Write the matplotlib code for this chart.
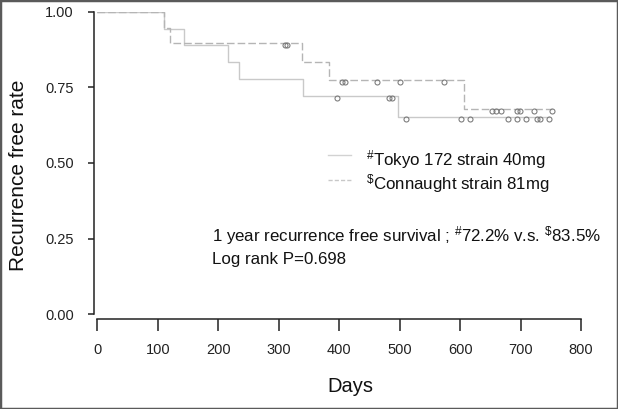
import matplotlib
matplotlib.use("Agg")
import matplotlib.pyplot as plt
from matplotlib.patches import Rectangle
from matplotlib.transforms import offset_copy

plt.rcParams['font.family'] = ['Liberation Sans', 'DejaVu Sans']
plt.rcParams['mathtext.fontset'] = 'custom'
plt.rcParams['mathtext.rm'] = 'Liberation Sans'
plt.rcParams['mathtext.it'] = 'Liberation Sans:italic'
plt.rcParams['mathtext.bf'] = 'Liberation Sans:bold'

# ---- data ----
tokyo_event_days = [110, 144, 216, 234, 340, 498]
tokyo_levels = [1.0, 0.944, 0.889, 0.833, 0.778, 0.722, 0.652]
tokyo_censor_days = [397, 483, 487, 511, 602, 617, 680, 694, 709, 728, 732, 747]
tokyo_end_day = 747

conn_event_days = [110, 120, 339, 383, 607]
conn_levels = [1.0, 0.947, 0.895, 0.835, 0.775, 0.678]
conn_censor_days = [310, 314, 404, 409, 463, 501, 573, 652, 659, 667, 694, 699, 722, 752]
conn_end_day = 752

x_ticks = [0, 100, 200, 300, 400, 500, 600, 700, 800]
y_ticks = [0.0, 0.25, 0.5, 0.75, 1.0]
y_ticklabels = ['0.00', '0.25', '0.50', '0.75', '1.00']


def level_at(day, events, levels):
    idx = sum(1 for e in events if e <= day)
    return levels[idx]


W, H = 618, 409
fig = plt.figure(figsize=(W / 100, H / 100), dpi=100)
ax = fig.add_axes([97.3 / W, (H - 314.3) / H, 483.7 / W, 302.6 / H])

solid_col = '#c9c9c9'
dash_col = '#b5b5b5'
mark_col = '#777777'

# Tokyo (solid)
tx = [0] + tokyo_event_days + [tokyo_end_day]
ty = tokyo_levels + [tokyo_levels[-1]]
ax.plot(tx, ty, drawstyle='steps-post', color=solid_col, lw=1.0, zorder=2)
# Connaught (dashed)
cx = [0] + conn_event_days + [conn_end_day]
cy = conn_levels + [conn_levels[-1]]
ax.plot(cx, cy, drawstyle='steps-post', color=dash_col, lw=1.0,
        dashes=(5.5, 2.2), zorder=2)

off = offset_copy(ax.transData, fig=fig, x=0, y=-2, units='dots')
ax.plot(tokyo_censor_days,
        [level_at(d, tokyo_event_days, tokyo_levels) for d in tokyo_censor_days],
        ls='none', marker='o', ms=3.6, mfc='none', mec=mark_col, mew=0.75,
        transform=off, zorder=3)
ax.plot(conn_censor_days,
        [level_at(d, conn_event_days, conn_levels) for d in conn_censor_days],
        ls='none', marker='o', ms=3.6, mfc='none', mec=mark_col, mew=0.75,
        transform=off, zorder=3)

ax.set_xlim(0, 800)
ax.set_ylim(0, 1)
ax.set_xticks(x_ticks)
ax.set_xticklabels([str(v) for v in x_ticks])
ax.set_yticks(y_ticks)
ax.set_yticklabels(y_ticklabels)

for s in ['top', 'right']:
    ax.spines[s].set_visible(False)
ax.spines['left'].set_position(('outward', 2.2))
ax.spines['bottom'].set_position(('outward', 3.2))
for s in ['left', 'bottom']:
    ax.spines[s].set_color('#222222')
    ax.spines[s].set_linewidth(1.1)

ax.tick_params(axis='y', direction='out', length=4.3, width=1.1, color='#222222',
               pad=10.5, labelsize=10.5, labelcolor='#222222')
ax.tick_params(axis='x', direction='out', length=8.5, width=1.1, color='#222222',
               pad=9, labelsize=10.5, labelcolor='#222222')

# axis titles
fig.text(19 / W, 1 - 175 / H, 'Recurrence free rate', rotation=90,
         ha='center', va='center', fontsize=15, color='#111111')
fig.text(350 / W, 1 - 387 / H, 'Days', ha='center', va='center',
         fontsize=14.5, color='#111111')

# legend (manual)
def px_to_axes(x, y):
    return ((x - 97.3) / 483.7, (314.3 - y) / 302.6)

x0, y0 = px_to_axes(328, 155)
x1, _ = px_to_axes(351, 155)
ax.plot([x0, x1], [y0, y0], transform=ax.transAxes, color='#d2d2d2', lw=1.0,
        clip_on=False)
x0, y1 = px_to_axes(328, 180)
ax.plot([x0, x1], [y1, y1], transform=ax.transAxes, color='#c8c8c8', lw=1.0,
        dashes=(3, 1.5), clip_on=False)

tx0, tb1 = px_to_axes(366, 165)
ax.text(tx0, tb1, r'$^{\#}$Tokyo 172 strain 40mg', transform=ax.transAxes,
        ha='left', va='baseline', fontsize=12.2, color='#111111')
_, tb2 = px_to_axes(366, 189)
ax.text(tx0, tb2, r'$^{\$}$Connaught strain 81mg', transform=ax.transAxes,
        ha='left', va='baseline', fontsize=12.2, color='#111111')

sx, sb1 = px_to_axes(212, 241)
ax.text(sx, sb1, r'1 year recurrence free survival ; $^{\#}$72.2% v.s. $^{\$}$83.5%',
        transform=ax.transAxes, ha='left', va='baseline', fontsize=12.2,
        color='#111111')
_, sb2 = px_to_axes(212, 264)
ax.text(sx, sb2, 'Log rank P=0.698', transform=ax.transAxes, ha='left',
        va='baseline', fontsize=12.2, color='#111111')

fig.add_artist(Rectangle((0, 0), 1, 1, transform=fig.transFigure, fill=False,
                         edgecolor='#5a5a5a', lw=2.5))

fig.savefig('out.png', dpi=100)
